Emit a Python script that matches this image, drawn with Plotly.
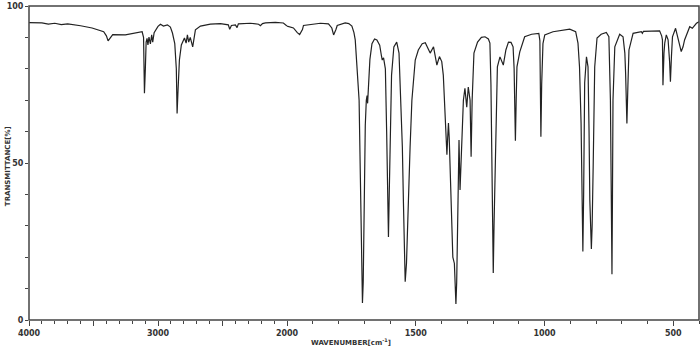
import plotly.graph_objects as go

# IR spectrum (wavenumber cm-1, transmittance %)
wn_high = [4000, 3900, 3850, 3800, 3750, 3700, 3600, 3511, 3421, 3400, 3387, 3370, 3351,
           3253, 3150, 3123, 3112, 3105, 3098, 3092, 3085, 3078, 3070, 3059, 3049, 3041,
           3030, 3000, 2981, 2958, 2927, 2904, 2888, 2870, 2858, 2852, 2846, 2840, 2834,
           2819, 2803, 2795, 2782, 2772, 2762, 2750, 2731, 2720, 2710, 2671, 2594, 2516,
           2455, 2444, 2431, 2400, 2387, 2377, 2284, 2220, 2206, 2190, 2167, 2090, 2028, 2000]
t_high = [94.7, 94.6, 94.2, 94.5, 94.1, 94.3, 93.7, 93.0, 91.8, 90.5, 88.9, 90.0, 90.9,
          90.8, 91.5, 91.8, 90.0, 72.2, 80.0, 88.5, 89.7, 87.6, 90.1, 87.9, 90.8, 88.5,
          91.5, 93.5, 94.2, 93.6, 94.0, 93.3, 91.4, 88.0, 80.0, 65.8, 72.0, 79.6, 82.8,
          87.6, 89.2, 89.8, 88.2, 90.8, 88.5, 90.0, 87.0, 90.5, 92.4, 93.6, 94.2, 94.4,
          94.0, 92.6, 93.8, 94.0, 93.1, 94.3, 94.5, 94.2, 93.7, 94.4, 94.6, 94.8, 94.6, 93.6]

wn_low = [2000, 1975, 1960, 1951, 1940, 1936, 1870, 1839, 1826, 1819, 1810, 1805, 1774,
          1760, 1748, 1740, 1735, 1730, 1725, 1720, 1715, 1710, 1707, 1704, 1700, 1696,
          1692, 1689, 1687, 1684, 1678, 1670, 1660, 1651, 1640, 1633, 1630, 1625, 1618,
          1613, 1609, 1606, 1603, 1599, 1594, 1585, 1574, 1565, 1558, 1552, 1548, 1544,
          1541, 1536, 1532, 1528, 1522, 1515, 1502, 1490, 1475, 1463, 1455, 1444, 1431,
          1418, 1408, 1399, 1393, 1386, 1379, 1376, 1373, 1370, 1364, 1356, 1350, 1346,
          1344, 1341, 1338, 1332, 1328, 1321, 1315, 1309, 1302, 1296, 1289, 1285, 1281,
          1274, 1260, 1245, 1231, 1218, 1212, 1208, 1205, 1202, 1199, 1196, 1192, 1189,
          1183, 1173, 1165, 1160, 1150, 1140, 1130, 1122, 1118, 1116, 1113, 1110, 1107,
          1096, 1077, 1050, 1022, 1018, 1016, 1014, 1011, 1006, 999, 967, 902, 879, 870,
          864, 858, 853, 851, 848, 844, 837, 831, 827, 824, 818, 815, 811, 805, 796, 780,
          760, 750, 744, 741, 738, 736, 734, 727, 708, 695, 688, 685, 680, 676, 672, 656,
          624, 620, 616, 553, 545, 542, 540, 536, 533, 527, 520, 514, 511, 507, 503, 491,
          482, 475, 469, 462, 456, 436, 426, 410, 400]
t_low = [93.6, 93.0, 91.5, 90.9, 92.5, 93.8, 94.5, 94.3, 93.0, 90.8, 92.5, 93.8, 94.6,
         94.4, 93.6, 91.5, 89.2, 82.0, 76.0, 70.0, 45.0, 15.0, 5.4, 12.0, 40.0, 62.0,
         70.0, 71.5, 69.0, 73.0, 83.0, 88.0, 89.5, 89.2, 87.5, 84.0, 82.8, 83.5, 80.0,
         60.0, 35.0, 26.4, 40.0, 63.7, 78.0, 87.0, 88.5, 85.0, 70.0, 55.0, 38.0, 20.0,
         12.2, 18.0, 30.0, 38.2, 55.0, 70.0, 82.8, 86.0, 88.0, 88.3, 87.0, 85.0, 87.0,
         81.2, 83.9, 82.3, 78.0, 62.7, 52.6, 58.0, 62.7, 58.0, 38.2, 20.0, 18.0, 10.0,
         5.1, 12.0, 27.7, 57.3, 41.4, 54.0, 70.0, 73.8, 67.8, 74.2, 70.0, 52.0, 70.0,
         85.0, 88.5, 90.0, 90.2, 89.5, 88.2, 75.0, 59.5, 35.0, 15.0, 30.0, 45.0, 54.0,
         80.6, 83.8, 82.0, 81.2, 86.0, 88.5, 88.4, 87.0, 80.0, 70.0, 57.1, 70.0, 80.6,
         85.4, 90.2, 91.0, 91.3, 89.0, 80.0, 58.4, 75.0, 88.0, 90.8, 91.8, 92.6, 91.8, 88.2,
         80.6, 62.7, 35.0, 21.8, 40.0, 75.5, 83.8, 80.6, 60.0, 38.2, 22.6, 30.0, 48.7, 80.6, 89.8, 91.0,
         91.6, 90.2, 70.0, 50.0, 14.6, 40.0, 70.0, 87.0, 91.0, 90.2, 85.0, 78.6, 62.6, 75.0, 86.0, 91.3,
         91.8, 91.3, 91.9, 92.1, 90.5, 89.2, 74.8, 85.0, 88.2, 90.8, 89.2, 82.0, 75.9, 84.0, 90.2, 92.9,
         90.2, 87.5, 85.5, 87.0, 89.2, 93.4, 92.9, 94.5, 95.0]

x_ticks_high = [4000, 3500, 3000, 2500]
x_labels_high = ["4000", "", "3000", ""]
x_ticks_low = [1500, 1000, 500]
x_labels_low = ["1500", "1000", "500"]
y_ticks = [0, 50, 100]
y_labels = ["0", "50", "100"]

LINE = "#222222"
AX = "#444444"
split = 258 / 670

fig = go.Figure()
fig.add_trace(go.Scatter(x=wn_high, y=t_high, mode="lines", xaxis="x", yaxis="y",
                         line=dict(color=LINE, width=1.2), showlegend=False, hoverinfo="skip"))
fig.add_trace(go.Scatter(x=wn_low, y=t_low, mode="lines", xaxis="x2", yaxis="y",
                         line=dict(color=LINE, width=1.2), showlegend=False, hoverinfo="skip"))

tickfont = dict(family="DejaVu Sans", size=8, color="#333333", weight="bold")

fig.update_layout(
    width=700, height=352,
    margin=dict(l=29, r=1, t=6, b=32),
    paper_bgcolor="white", plot_bgcolor="white",
    font=dict(family="DejaVu Sans", size=8, color="#333333"),
    xaxis=dict(domain=[0, split], range=[4000, 2000], showgrid=False, zeroline=False,
               showline=False, tickmode="array", tickvals=x_ticks_high, ticktext=x_labels_high,
               ticks="outside", ticklen=5, tickwidth=1, tickcolor=AX, tickfont=tickfont,
               automargin=False,
               minor=dict(tickmode="linear", tick0=0, dtick=100, ticks="outside",
                          ticklen=3, tickwidth=1, tickcolor=AX),
               anchor="y"),
    xaxis2=dict(domain=[split, 1], range=[2000, 400], showgrid=False, zeroline=False,
                showline=False, tickmode="array", tickvals=[2000] + x_ticks_low,
                ticktext=["2000"] + x_labels_low, automargin=False,
                ticks="outside", ticklen=5, tickwidth=1, tickcolor=AX, tickfont=tickfont,
                minor=dict(tickmode="linear", tick0=0, dtick=100, ticks="outside",
                           ticklen=3, tickwidth=1, tickcolor=AX),
                anchor="y"),
    yaxis=dict(range=[0, 100], showgrid=False, zeroline=False, showline=False,
               tickmode="array", tickvals=y_ticks, ticktext=y_labels, automargin=False,
               ticks="outside", ticklen=3, tickwidth=1, tickcolor=AX, tickfont=tickfont,
               minor=dict(tickmode="linear", tick0=0, dtick=10, ticks="outside",
                          ticklen=3, tickwidth=1, tickcolor=AX),
               anchor="x"),
    shapes=[dict(type="rect", xref="paper", yref="paper", x0=0, y0=0, x1=1, y1=1,
                 line=dict(color=AX, width=1.5), fillcolor="rgba(0,0,0,0)", layer="above")],
    annotations=[
        dict(text="WAVENUMBER[cm<sup>-1</sup>]", xref="paper", yref="paper", x=0.48, y=0,
             yshift=-22, showarrow=False, xanchor="center", yanchor="middle",
             font=dict(family="DejaVu Sans", size=7, color="#333333", weight="bold")),
        dict(text="TRANSMITTANCE[%]", xref="paper", yref="paper", x=0, y=0.49,
             xshift=-21, showarrow=False, textangle=-90, xanchor="center", yanchor="middle",
             font=dict(family="DejaVu Sans", size=7, color="#333333", weight="bold")),
    ],
)

fig.write_html(
    "out.html",
    config={"displayModeBar": False},
    post_script="document.body.style.margin='0';document.body.style.overflow='hidden';",
)
